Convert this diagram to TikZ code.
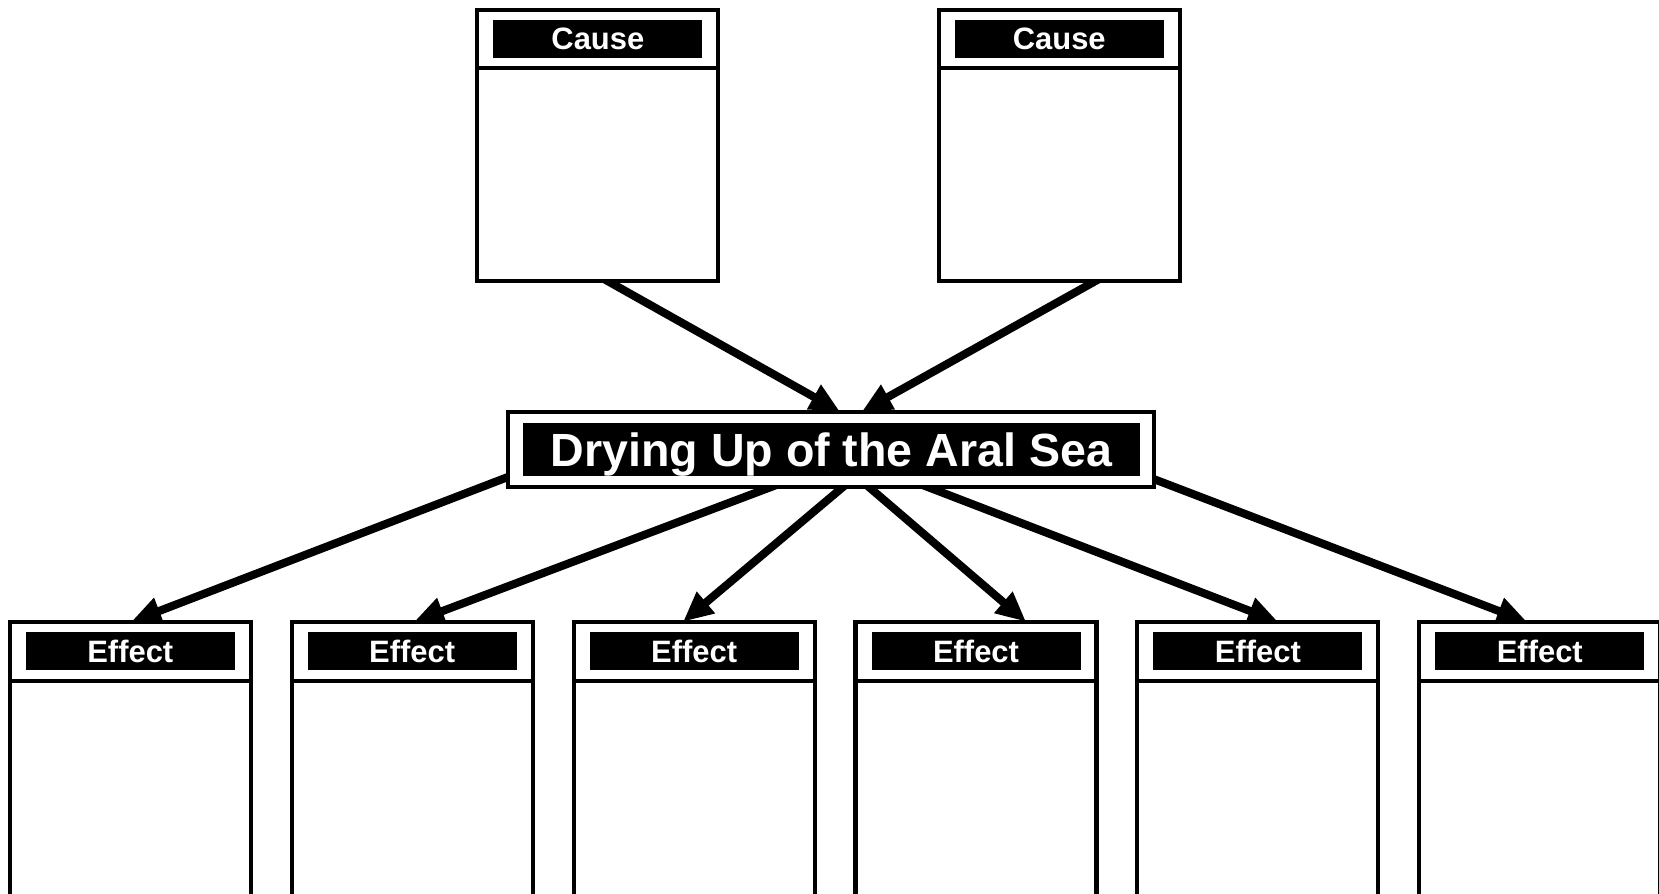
\documentclass[tikz,border=0pt]{standalone}
\usepackage{fontspec}
\setsansfont{Liberation Sans}
\usetikzlibrary{arrows.meta, positioning, backgrounds}
\tikzset{
  framebox/.style={rectangle, draw=black, fill=white, line width=2.3pt,
              inner sep=0pt, outer sep=0pt, minimum width=4.82cm, minimum height=#1},
  framebox/.default=5.41cm,
  tagbox/.style={rectangle, fill=black, text=white, inner sep=0pt, outer sep=0pt,
              minimum width=4.18cm, minimum height=0.76cm, text depth=0pt,
              font=\sffamily\bfseries\fontsize{17.6}{19}\selectfont},
  titlebox/.style={rectangle, draw=black, fill=white, line width=2.3pt,
              inner sep=0pt, outer sep=0pt, minimum width=12.92cm, minimum height=1.51cm},
  titlebar/.style={rectangle, fill=black, text=white, inner sep=0pt,
              minimum width=12.33cm, minimum height=1.07cm, text depth=0pt,
              font=\sffamily\bfseries\fontsize{26.5}{28}\selectfont},
  divider/.style={line width=2.3pt},
  arrow/.style={-{Triangle[length=17pt, width=15pt]}, line width=4.6pt, shorten <=-12pt},
}
\begin{document}
\begin{tikzpicture}
  \useasboundingbox (0,0) rectangle (33.18,-17.86);
  \clip (0,0) rectangle (33.18,-17.86);

  % causes
  \node[framebox] (cause1) at (11.957,-2.907) {};
  \node[tagbox, below=0.19cm of cause1.north] (causetag1) {Cause};
  \draw[divider] ([yshift=-1.16cm]cause1.north west) -- ([yshift=-1.16cm]cause1.north east);
  \node[framebox] (cause2) at (21.185,-2.907) {};
  \node[tagbox, below=0.19cm of cause2.north] (causetag2) {Cause};
  \draw[divider] ([yshift=-1.16cm]cause2.north west) -- ([yshift=-1.16cm]cause2.north east);

  % topic
  \node[titlebox] (topic) at (16.628,-8.986) {};
  \node[titlebar] (topicbar) at (topic.center) {Drying Up of the Aral Sea};

  % effects
  \node[framebox=6.4cm] (effect1) at (2.606,-15.634) {};
  \node[framebox=6.4cm, right=0.818cm of effect1] (effect2) {};
  \node[framebox=6.4cm, right=0.818cm of effect2] (effect3) {};
  \node[framebox=6.4cm, right=0.818cm of effect3] (effect4) {};
  \node[framebox=6.4cm, right=0.818cm of effect4] (effect5) {};
  \node[framebox=6.4cm, right=0.818cm of effect5] (effect6) {};
  \node[tagbox, below=0.21cm of effect1.north] (efftag1) {Effect};
  \node[tagbox, below=0.21cm of effect2.north] (efftag2) {Effect};
  \node[tagbox, below=0.21cm of effect3.north] (efftag3) {Effect};
  \node[tagbox, below=0.21cm of effect4.north] (efftag4) {Effect};
  \node[tagbox, below=0.21cm of effect5.north] (efftag5) {Effect};
  \node[tagbox, below=0.21cm of effect6.north] (efftag6) {Effect};
  \draw[divider] ([yshift=-1.18cm]effect1.north west) -- ([yshift=-1.18cm]effect1.north east);
  \draw[divider] ([yshift=-1.18cm]effect2.north west) -- ([yshift=-1.18cm]effect2.north east);
  \draw[divider] ([yshift=-1.18cm]effect3.north west) -- ([yshift=-1.18cm]effect3.north east);
  \draw[divider] ([yshift=-1.18cm]effect4.north west) -- ([yshift=-1.18cm]effect4.north east);
  \draw[divider] ([yshift=-1.18cm]effect5.north west) -- ([yshift=-1.18cm]effect5.north east);
  \draw[divider] ([yshift=-1.18cm]effect6.north west) -- ([yshift=-1.18cm]effect6.north east);

  % arrows behind the boxes
  \begin{scope}[on background layer]
    \draw[arrow] ([xshift=0.18cm]cause1.south) -- ([xshift=0.17cm]topic.north);
    \draw[arrow] ([xshift=0.74cm]cause2.south) -- ([xshift=0.61cm]topic.north);
    \draw[arrow] ([yshift=-0.55cm]topic.west) -- ([xshift=0.02cm]effect1.north);
    \draw[arrow] ([xshift=-1.21cm]topic.south) -- ([xshift=0.04cm]effect2.north);
    \draw[arrow] ([xshift=0.23cm]topic.south) -- ([xshift=-0.22cm]effect3.north);
    \draw[arrow] ([xshift=0.75cm]topic.south) -- ([xshift=1.0cm]effect4.north);
    \draw[arrow] ([xshift=1.93cm]topic.south) -- ([xshift=0.4cm]effect5.north);
    \draw[arrow] ([yshift=-0.6cm]topic.east) -- ([xshift=-0.26cm]effect6.north);
  \end{scope}
\end{tikzpicture}
\end{document}
